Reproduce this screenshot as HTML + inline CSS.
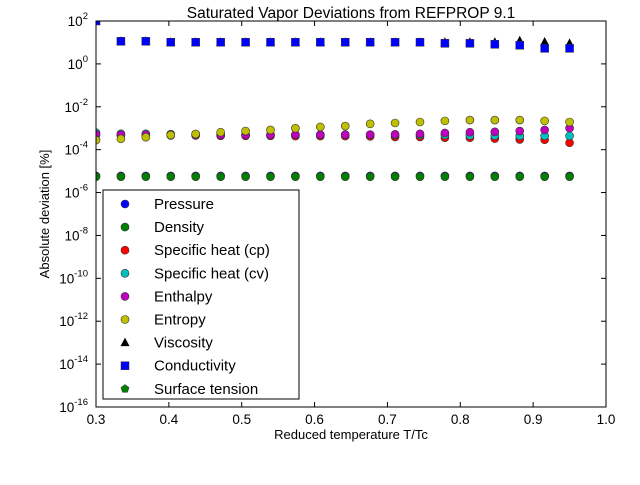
<!DOCTYPE html>
<html><head><meta charset="utf-8"><style>
body{margin:0;background:#fff;width:640px;height:480px;overflow:hidden;font-family:"Liberation Sans","DejaVu Sans",sans-serif}
</style></head><body>
<svg id="chart" width="640" height="480" xmlns="http://www.w3.org/2000/svg" font-family="Liberation Sans, DejaVu Sans, sans-serif">
<rect width="640" height="480" fill="#fff"/>
<g id="marks"></g>
<g id="axes"></g>
</svg>
<script>
const xs=[0.3,0.3342,0.3684,0.4026,0.4368,0.4711,0.5053,0.5395,0.5737,0.6079,0.6421,0.6763,0.7105,0.7447,0.7789,0.8132,0.8474,0.8816,0.9158,0.95];
const pressure=[6e-6,6e-6,6e-6,6e-6,6e-6,6e-6,6e-6,6e-6,6e-6,6e-6,6e-6,6e-6,6e-6,6e-6,6e-6,6e-6,6e-6,6e-6,6e-6,6e-6];
const density=[5.5e-6,5.5e-6,5.5e-6,5.5e-6,5.5e-6,5.5e-6,5.5e-6,5.5e-6,5.5e-6,5.5e-6,5.5e-6,5.5e-6,5.5e-6,5.5e-6,5.5e-6,5.5e-6,5.5e-6,5.5e-6,5.5e-6,5.5e-6];
const cp=[4.8e-4,4.6e-4,4.6e-4,4.6e-4,4.6e-4,4.4e-4,4.4e-4,4.4e-4,4.3e-4,4.3e-4,4.3e-4,4.2e-4,3.9e-4,3.9e-4,3.6e-4,3.6e-4,3.3e-4,3.0e-4,2.9e-4,2.1e-4];
const cv=[6.2e-4,5.5e-4,5.5e-4,5.3e-4,5.2e-4,5.0e-4,5.0e-4,5.0e-4,5.0e-4,5.0e-4,5.0e-4,5.0e-4,4.8e-4,4.8e-4,4.8e-4,4.6e-4,4.5e-4,4.4e-4,4.4e-4,4.4e-4];
const enthalpy=[5.2e-4,5.0e-4,5.0e-4,5.0e-4,4.8e-4,4.8e-4,4.8e-4,4.8e-4,5.0e-4,5.0e-4,5.0e-4,5.0e-4,5.2e-4,5.5e-4,6.0e-4,6.5e-4,6.8e-4,7.4e-4,8.3e-4,1.0e-3];
const entropy=[2.8e-4,3.2e-4,3.8e-4,4.8e-4,5.4e-4,6.5e-4,7.4e-4,8.3e-4,1.0e-3,1.15e-3,1.26e-3,1.6e-3,1.75e-3,1.95e-3,2.2e-3,2.4e-3,2.4e-3,2.4e-3,2.2e-3,1.95e-3];
const viscosity=[100,11.3,11.3,10.2,10.2,10.2,10.2,10.2,10.2,10.2,10.2,10.2,10.2,10.2,10.2,10.2,10.2,12,10.5,9.1];
const conductivity=[100,11.3,11.3,10.2,10.2,10.2,10.2,10.2,10.2,10.2,10.2,10.2,10.2,10.2,9.1,9.1,8.2,7.4,5.3,5.3];
const surface=[5.5e-6,5.5e-6,5.5e-6,5.5e-6,5.5e-6,5.5e-6,5.5e-6,5.5e-6,5.5e-6,5.5e-6,5.5e-6,5.5e-6,5.5e-6,5.5e-6,5.5e-6,5.5e-6,5.5e-6,5.5e-6,5.5e-6,5.5e-6];
const xTicks=[0.3,0.4,0.5,0.6,0.7,0.8,0.9,1.0];
const yTickExps=[2,0,-2,-4,-6,-8,-10,-12,-14,-16];
const legendLabels=["Pressure","Density","Specific heat (cp)","Specific heat (cv)","Enthalpy","Entropy","Viscosity","Conductivity","Surface tension"];

const L=96,R=606,T=21,B=407;
const sx=v=>L+(v-0.3)/(0.7)*(R-L);
const sy=v=>T+(2-Math.log10(v))/18*(B-T);
const NS="http://www.w3.org/2000/svg";
function mk(tag,attrs,parent){const e=document.createElementNS(NS,tag);for(const k in attrs)e.setAttribute(k,attrs[k]);parent.appendChild(e);return e;}
const marks=document.getElementById('marks'),axes=document.getElementById('axes');
function marker(shape,color,x,y,parent){
  let e;
  if(shape==='o')e=mk('circle',{cx:x,cy:y,r:4,fill:color,stroke:'#333','stroke-width':0.6},parent);
  else if(shape==='s')e=mk('rect',{x:x-4,y:y-4,width:8,height:8,fill:color,stroke:'#333','stroke-width':0.5},parent);
  else if(shape==='^')e=mk('polygon',{points:`${x},${y-5} ${x+4.5},${y+3.5} ${x-4.5},${y+3.5}`,fill:color},parent);
  else {let p=[];for(let i=0;i<5;i++){const a=-Math.PI/2+i*2*Math.PI/5;p.push((x+4.3*Math.cos(a)).toFixed(1)+','+(y+4.3*Math.sin(a)).toFixed(1));}e=mk('polygon',{points:p.join(' '),fill:color,stroke:'#333','stroke-width':0.5},parent);}
  return e;
}
const series=[[pressure,'o','#0000ff','pressure'],[density,'o','#008000','density'],[cp,'o','#ff0000','specific-heat-cp'],[cv,'o','#00bfbf','specific-heat-cv'],[enthalpy,'o','#bf00bf','enthalpy'],[entropy,'o','#bfbf00','entropy'],[viscosity,'^','#000000','viscosity'],[conductivity,'s','#0000ff','conductivity']];
const clip=mk('clipPath',{id:'pc'},marks);mk('rect',{x:L,y:T,width:R-L,height:B-T},clip);
const g=mk('g',{'clip-path':'url(#pc)'},marks);
series.forEach(([vals,sh,col,nm])=>{
  xs.forEach((x,i)=>{
    const e=marker(sh,col,sx(x),sy(vals[i]),g);
    
    
  });
});
const fr=mk('rect',{x:L,y:T,width:R-L,height:B-T,fill:'none',stroke:'#000','stroke-width':1},axes);


xTicks.forEach(v=>{
  const x=sx(v);
  mk('line',{x1:x,y1:B,x2:x,y2:B-5,stroke:'#000'},axes);
  mk('line',{x1:x,y1:T,x2:x,y2:T+5,stroke:'#000'},axes);
  const t=mk('text',{x:x,y:B+17,'font-size':13.5,'text-anchor':'middle'},axes);
  t.textContent=v.toFixed(1);
  
  
});
yTickExps.forEach(e=>{
  const y=sy(Math.pow(10,e));
  mk('line',{x1:L,y1:y,x2:L+5,y2:y,stroke:'#000'},axes);
  mk('line',{x1:R,y1:y,x2:R-5,y2:y,stroke:'#000'},axes);
  const t=mk('text',{x:L-8,y:y+5,'font-size':13.5,'text-anchor':'end'},axes);
  t.innerHTML='10<tspan dy="-7" font-size="9.5">'+e+'</tspan>';
  
  
});
const lg=mk('g',{},axes);


mk('rect',{x:103,y:190,width:196,height:209,fill:'#fff',stroke:'#000','stroke-width':1},lg);
const legShapes=['o','o','o','o','o','o','^','s','p'];
const legCols=['#0000ff','#008000','#ff0000','#00bfbf','#bf00bf','#bfbf00','#000000','#0000ff','#008000'];
legendLabels.forEach((lab,i)=>{
  const y=204+i*23.1;
  const m=marker(legShapes[i],legCols[i],125,y,lg);
  
  
  const t=mk('text',{x:154,y:y+5,'font-size':15},lg);
  t.textContent=lab;
  
  
});
const title=mk('text',{x:351,y:18,'font-size':15.5,'text-anchor':'middle'},axes);
title.textContent='Saturated Vapor Deviations from REFPROP 9.1';


const xl=mk('text',{x:351,y:439,'font-size':13,'text-anchor':'middle'},axes);
xl.textContent='Reduced temperature T/Tc';


const yl=mk('text',{x:49,y:214,'font-size':13,'text-anchor':'middle',transform:'rotate(-90 49 214)'},axes);
yl.textContent='Absolute deviation [%]';


</script>
</body></html>
